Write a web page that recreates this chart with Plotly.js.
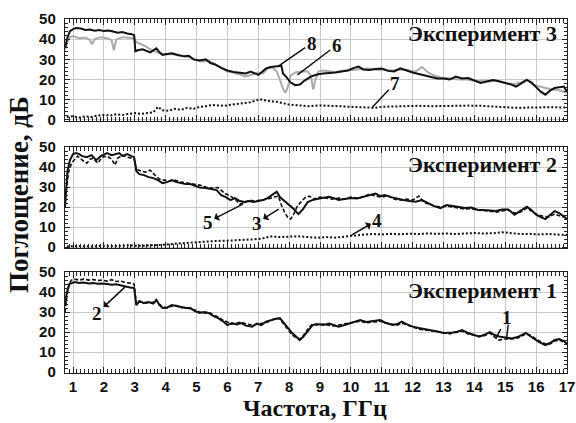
<!DOCTYPE html>
<html><head><meta charset="utf-8">
<script src="https://cdn.plot.ly/plotly-3.0.1.min.js"></script>
<style>html,body{margin:0;padding:0;background:#fff}#chart{width:576px;height:423px}</style>
</head><body><div id="chart"></div>
<script>
// ---- Data: [frequency GHz, absorption dB] ----
// Experiment 3
const exp3_curve8 = [[0.75,36],[0.8,40],[0.9,44],[1.0,45],[1.1,45.5],[1.25,45.3],[1.4,44.6],[1.55,44.8],[1.7,44.2],[1.85,44.5],[2.0,44],[2.15,44.3],[2.3,43.8],[2.45,43.2],[2.6,43.5],[2.75,42.8],[2.9,42.5],[2.98,42],[3.02,34],[3.1,34.5],[3.25,35],[3.4,34],[3.5,33.5],[3.6,34.5],[3.7,35.5],[3.8,33.5],[3.9,32.2],[4.0,32.5],[4.2,33],[4.4,32.2],[4.6,31.5],[4.75,31.8],[4.9,30],[5.1,29.5],[5.3,30],[5.45,28.2],[5.6,27.5],[5.8,25.8],[6.0,24.5],[6.2,23.8],[6.4,23.4],[6.6,23],[6.75,24],[6.9,22.8],[7.0,22.3],[7.1,23.5],[7.25,25.5],[7.4,26.2],[7.6,26.4],[7.75,26.8],[7.8,23],[7.9,21.5],[8.05,18.5],[8.2,17.2],[8.35,17.5],[8.5,19.5],[8.7,21.5],[8.9,22.5],[9.1,23],[9.3,23.2],[9.5,23.5],[9.7,24],[9.9,24.5],[10.1,25.8],[10.25,26.4],[10.4,25],[10.6,24.8],[10.8,25.2],[11.0,25.5],[11.2,24.3],[11.4,24],[11.6,25.6],[11.8,24.5],[12.0,23.5],[12.2,22.8],[12.4,22],[12.6,21.5],[12.8,20.5],[13.0,20.5],[13.2,20],[13.4,21.5],[13.6,20.5],[13.8,20.8],[14.0,19.5],[14.2,18.3],[14.4,19],[14.6,19.8],[14.8,19.2],[15.0,18.5],[15.2,17.5],[15.35,16.5],[15.5,18],[15.7,19.8],[15.85,18.5],[16.0,16],[16.15,14],[16.3,12.5],[16.45,14.5],[16.6,15.8],[16.75,16.2],[16.9,16.5],[17.0,14]];
const exp3_curve6 = [[0.75,35],[0.8,38],[0.9,41],[1.0,41.5],[1.2,40.5],[1.4,40.8],[1.55,39.5],[1.62,37.5],[1.7,40],[1.9,41],[2.1,40.5],[2.25,39.5],[2.32,34.5],[2.4,39.8],[2.6,41],[2.8,40.8],[2.98,40.5],[3.05,38.5],[3.2,37.5],[3.35,36.5],[3.5,35],[3.65,34],[3.8,33],[4.0,32.5],[4.2,32.5],[4.4,32],[4.6,31.5],[4.8,31],[5.0,29.5],[5.2,29],[5.4,29.3],[5.6,27.5],[5.8,25.5],[6.0,24],[6.2,23.5],[6.4,22.5],[6.6,21.5],[6.8,22.5],[7.0,23.5],[7.15,23],[7.3,25.5],[7.45,26],[7.6,24],[7.7,20],[7.8,15.5],[7.88,13.5],[7.95,16],[8.05,22],[8.2,23.5],[8.4,24],[8.6,24],[8.7,22],[8.78,15],[8.85,20],[8.95,24],[9.1,24.5],[9.3,24],[9.5,23.8],[9.7,24.2],[9.9,24.5],[10.1,24.8],[10.3,25.2],[10.5,25.5],[10.7,25.2],[10.9,24.8],[11.1,25],[11.3,24.5],[11.5,24.8],[11.7,25],[11.9,24.5],[12.1,24],[12.3,26.2],[12.5,23.5],[12.7,22],[12.9,21],[13.1,20.8],[13.3,20.3],[13.5,20],[13.7,20.2],[13.9,19.8],[14.1,19.2],[14.3,19.5],[14.5,19],[14.7,19.5],[14.9,18.5],[15.1,18],[15.3,17.8],[15.5,18.5],[15.7,20],[15.9,17.5],[16.1,16.5],[16.3,15.8],[16.5,15.2],[16.7,14.8],[16.9,14],[17.0,13.5]];
const exp3_curve7 = [[0.8,1.5],[1.0,1.8],[1.2,1.2],[1.4,1.8],[1.6,1.5],[1.8,2.2],[2.0,2.5],[2.2,2.2],[2.4,2.8],[2.6,2.5],[2.8,3.0],[3.0,3.4],[3.2,3.0],[3.4,3.5],[3.6,3.8],[3.75,6.5],[3.9,4.8],[4.1,4.5],[4.3,5.5],[4.5,5.0],[4.7,6.0],[4.9,5.5],[5.1,6.5],[5.3,6.8],[5.5,7.4],[5.7,7.2],[5.9,7.0],[6.1,7.5],[6.3,7.8],[6.5,8.2],[6.7,8.6],[6.9,9.5],[7.05,10.3],[7.2,9.8],[7.4,9.2],[7.6,9.0],[7.8,8.2],[8.0,7.6],[8.2,7.4],[8.4,7.0],[8.6,6.8],[8.8,7.0],[9.0,7.2],[9.3,7.0],[9.6,6.8],[9.9,6.9],[10.2,6.7],[10.5,6.4],[10.75,6.0],[11.0,6.5],[11.4,6.7],[11.8,6.9],[12.2,7.0],[12.6,6.8],[13.0,7.0],[13.4,6.9],[13.8,7.1],[14.2,7.0],[14.6,6.8],[15.0,6.3],[15.3,6.0],[15.6,6.1],[16.0,6.4],[16.4,6.3],[16.8,6.2],[17.0,6.2]];
// Experiment 2
const exp2_curve5 = [[0.74,20],[0.78,30],[0.82,38],[0.9,43.5],[1.0,46.5],[1.1,47],[1.2,46.5],[1.3,45.5],[1.45,45],[1.6,46],[1.75,43.5],[1.9,45.5],[2.1,47],[2.25,46],[2.4,46.5],[2.5,47],[2.6,45.5],[2.75,46.5],[2.9,45.5],[2.98,45],[3.05,38],[3.15,36.5],[3.3,36],[3.45,35],[3.6,34.5],[3.75,33.5],[3.9,32],[4.05,32.5],[4.2,33.5],[4.35,32.5],[4.5,32],[4.65,31.5],[4.8,31.5],[4.95,30.5],[5.1,29.8],[5.3,29.5],[5.5,29],[5.65,28.5],[5.8,26],[5.95,25],[6.1,23.5],[6.25,24.5],[6.4,23],[6.55,22.5],[6.7,23],[6.85,22.5],[7.0,23],[7.15,23.5],[7.3,24.5],[7.45,26],[7.6,27.7],[7.7,25],[7.85,23],[8.0,21],[8.15,19],[8.3,16.5],[8.45,19],[8.6,22.5],[8.75,23.5],[8.9,24],[9.1,24.5],[9.3,25.2],[9.45,24.5],[9.6,23.5],[9.8,24],[10.0,24.5],[10.2,24.3],[10.4,25.2],[10.6,25.8],[10.8,26.8],[10.95,25.5],[11.1,26],[11.3,25],[11.5,24.2],[11.7,23.5],[11.9,23],[12.1,22.7],[12.3,23.5],[12.5,22],[12.7,20.5],[12.9,19.5],[13.1,21],[13.3,20.5],[13.5,20],[13.7,19.5],[13.9,19.8],[14.1,18.7],[14.3,18.5],[14.5,18.2],[14.7,18],[14.9,18.8],[15.1,18.8],[15.3,16.2],[15.5,18],[15.7,20.2],[15.85,18.5],[16.0,16.2],[16.15,15],[16.3,14],[16.45,16],[16.6,18],[16.75,17],[16.9,15],[17.0,14]];
const exp2_curve3 = [[0.78,28],[0.85,37],[0.95,42],[1.05,44],[1.15,45.5],[1.3,43.5],[1.45,42],[1.55,44],[1.65,44.5],[1.8,42],[1.95,45],[2.1,45.5],[2.25,44],[2.36,41],[2.45,44.5],[2.6,46],[2.75,45],[2.9,44.5],[2.98,44],[3.05,39],[3.2,38],[3.35,37.5],[3.5,38.5],[3.65,36],[3.8,34],[3.95,33.5],[4.1,33],[4.3,33.5],[4.5,32.5],[4.7,32],[4.9,31.5],[5.1,31],[5.3,30],[5.5,29.5],[5.7,29.8],[5.9,27],[6.1,25.5],[6.25,24],[6.4,21.5],[6.55,22],[6.7,23.5],[6.9,23],[7.1,23.5],[7.3,24],[7.5,25],[7.65,25.5],[7.75,21],[7.85,17.5],[7.95,15],[8.05,14],[8.15,16.5],[8.25,20],[8.35,22],[8.5,24.5],[8.65,25.5],[8.8,24],[9.0,25],[9.2,24.5],[9.4,24],[9.6,24.5],[9.8,24],[10.0,25],[10.2,24.5],[10.4,25],[10.6,26.5],[10.8,25.5],[11.0,25],[11.2,25.8],[11.4,24],[11.6,23.5],[11.8,24],[12.0,23.5],[12.2,25.5],[12.35,22.5],[12.5,21.5],[12.7,20.5],[12.9,20],[13.1,20.5],[13.3,20],[13.5,19.5],[13.7,19],[13.9,19.3],[14.1,18.5],[14.3,18.3],[14.5,18],[14.7,17.5],[14.9,18],[15.1,18.5],[15.3,17],[15.5,17.5],[15.7,19.5],[15.85,18],[16.0,16.5],[16.2,15.5],[16.4,15],[16.6,16.5],[16.8,15.5],[17.0,14.5]];
const exp2_curve4 = [[0.8,0.3],[1.2,0.5],[1.6,0.3],[2.0,0.6],[2.4,0.5],[2.8,0.8],[3.2,0.6],[3.6,0.8],[4.0,1.2],[4.4,1.8],[4.8,2.2],[5.2,2.8],[5.6,3.0],[6.0,3.2],[6.4,3.4],[6.8,3.8],[7.1,4.2],[7.4,5.3],[7.7,5.0],[8.0,5.2],[8.3,5.4],[8.6,5.0],[8.9,4.6],[9.2,5.0],[9.5,4.7],[9.8,5.2],[10.1,5.8],[10.4,6.2],[10.7,6.5],[11.0,6.3],[11.3,6.6],[11.6,6.4],[11.9,6.7],[12.2,6.5],[12.5,6.8],[12.8,6.6],[13.1,6.8],[13.4,6.5],[13.7,6.8],[14.0,7.0],[14.3,6.8],[14.6,6.9],[14.9,7.4],[15.2,6.8],[15.5,6.5],[15.8,6.6],[16.1,6.3],[16.4,6.5],[16.7,6.2],[17.0,6.0]];
// Experiment 1
const exp1_curve1 = [[0.74,33],[0.8,40],[0.88,44],[0.95,44.5],[1.05,45],[1.2,44.5],[1.35,44.8],[1.5,44.3],[1.65,44.6],[1.8,44.2],[1.95,44.3],[2.1,44],[2.25,43.7],[2.4,43.9],[2.55,43.2],[2.7,42.8],[2.85,42.3],[2.98,42],[3.05,33.5],[3.15,35.5],[3.3,34.5],[3.45,35],[3.6,34.2],[3.7,36],[3.8,33.5],[3.9,32],[4.05,32.3],[4.2,33.5],[4.35,33],[4.5,32.5],[4.65,32],[4.8,32],[4.95,30.5],[5.1,29.5],[5.25,30],[5.4,29.5],[5.55,28],[5.7,27],[5.85,25.5],[6.0,23.5],[6.15,24.5],[6.3,23.8],[6.45,24.5],[6.6,23.2],[6.8,22.7],[6.95,24.2],[7.1,23.5],[7.25,25.2],[7.4,26],[7.55,26.5],[7.7,27],[7.8,25],[7.9,23.5],[8.0,21],[8.1,19.5],[8.24,17.5],[8.34,16],[8.45,17.5],[8.55,19.5],[8.65,21.5],[8.76,23.5],[8.9,24],[9.1,23.5],[9.3,24.2],[9.45,23.5],[9.6,22.7],[9.8,23.5],[10.0,24.5],[10.15,25.5],[10.3,26],[10.5,25],[10.65,25.3],[10.8,25.5],[10.95,26],[11.1,24.8],[11.35,23.5],[11.5,24],[11.65,25.2],[11.8,24],[12.0,22.7],[12.2,22],[12.4,21.5],[12.6,21],[12.8,20.3],[13.0,19.5],[13.15,19.5],[13.3,19.8],[13.45,20.2],[13.6,21],[13.8,19.5],[14.0,18.5],[14.16,17.7],[14.3,18.5],[14.5,20],[14.65,18.5],[14.8,17.8],[15.0,17.3],[15.2,16.8],[15.4,17.5],[15.55,18.5],[15.67,19.6],[15.8,18],[15.95,16.5],[16.1,15],[16.3,13.5],[16.45,14.5],[16.6,16],[16.75,16.5],[16.9,15.5],[17.0,14]];
const exp1_curve2 = [[0.74,30],[0.8,38],[0.88,44.5],[0.95,46],[1.05,46.5],[1.2,46],[1.35,46.5],[1.5,46],[1.65,46.3],[1.8,45.8],[1.95,46],[2.1,45.5],[2.25,46.2],[2.4,45.3],[2.55,45.5],[2.7,44.8],[2.85,44.5],[2.98,44],[3.05,34],[3.15,35],[3.3,34.8],[3.45,34.5],[3.6,35],[3.7,36.2],[3.8,34],[3.9,32.5],[4.05,32],[4.2,33],[4.35,33.3],[4.5,32.2],[4.65,32.5],[4.8,31.5],[4.95,31],[5.1,30],[5.25,29.5],[5.4,30],[5.55,28.5],[5.7,27.5],[5.85,26],[6.0,25],[6.15,24],[6.3,24.5],[6.45,25],[6.6,24],[6.8,23.5],[6.95,23.8],[7.1,24.2],[7.25,24.8],[7.4,25.5],[7.55,27],[7.7,26.5],[7.8,24.5],[7.9,22.5],[8.0,20.5],[8.1,18.5],[8.24,17],[8.34,16.5],[8.45,18],[8.55,20],[8.65,22.5],[8.76,24],[8.9,23.5],[9.1,24],[9.3,23.5],[9.45,23],[9.6,23.5],[9.8,24],[10.0,24.8],[10.15,25],[10.3,25.5],[10.5,24.5],[10.65,25],[10.8,25],[10.95,25.5],[11.1,24.5],[11.35,24],[11.5,23.5],[11.65,24.5],[11.8,23.5],[12.0,22.5],[12.2,21.5],[12.4,21],[12.6,20.8],[12.8,20],[13.0,19.8],[13.15,19],[13.3,19.5],[13.45,20],[13.6,20.5],[13.8,19],[14.0,18.3],[14.16,18],[14.3,18],[14.5,19.5],[14.65,17.5],[14.8,16],[15.0,16.5],[15.2,16.5],[15.4,17],[15.55,18],[15.67,19],[15.8,18.5],[15.95,17],[16.1,15.5],[16.3,14],[16.45,14],[16.6,15.5],[16.75,16],[16.9,15],[17.0,14.5]];

const xTickVals = [1,2,3,4,5,6,7,8,9,10,11,12,13,14,15,16,17];
const yTickVals = [0,10,20,30,40,50];
const panelNames = ['Эксперимент 1','Эксперимент 2','Эксперимент 3'];
const xTitle = 'Частота, ГГц';
const yTitle = 'Поглощение, дБ';

// ---- Helpers ----
const xs = a => a.map(p => p[0]);
const ys = a => a.map(p => p[1]);
function tr(data, xa, ya, color, width, dash){
  return {x: xs(data), y: ys(data), xaxis: xa, yaxis: ya, type: 'scatter', mode: 'lines',
          line: {color: color, width: width, dash: dash}, hoverinfo: 'skip', showlegend: false};
}
const BLACK = '#111111', GRAY = '#ababab';
const DASH = '4px,2px', DOT = '2px,2px';
const traces = [
  tr(exp3_curve6, 'x3', 'y3', GRAY, 2, 'solid'),
  tr(exp3_curve8, 'x3', 'y3', BLACK, 2, 'solid'),
  tr(exp3_curve7, 'x3', 'y3', BLACK, 2, DOT),
  tr(exp2_curve3, 'x2', 'y2', BLACK, 1.6, DASH),
  tr(exp2_curve5, 'x2', 'y2', BLACK, 2, 'solid'),
  tr(exp2_curve4, 'x2', 'y2', BLACK, 2, DOT),
  tr(exp1_curve2, 'x', 'y', BLACK, 1.6, DASH),
  tr(exp1_curve1, 'x', 'y', BLACK, 2, 'solid')
];

const tickFont = {family: 'Liberation Sans, Arial, sans-serif', size: 15, color: '#111', weight: 'bold'};
const serif = 'Liberation Serif, Times New Roman, serif';
function xAxis(anchor, showLabels){
  return {anchor: anchor, range: [0.74, 17.0], tickvals: xTickVals, showticklabels: showLabels,
    ticks: 'inside', ticklen: 6, tickcolor: '#222', mirror: 'allticks', showline: true, linecolor: '#222', linewidth: 1.2,
    showgrid: true, gridcolor: '#c9c9c9', gridwidth: 1, zeroline: false, tickfont: tickFont,
    minor: {dtick: 0.125, tick0: 0, ticks: 'inside', ticklen: 4, tickcolor: '#222', showgrid: false}};
}
function yAxis(domain){
  return {domain: domain, range: [-0.5, 50], tickvals: yTickVals, ticks: 'inside', ticklen: 5, tickcolor: '#222',
    mirror: 'allticks', showline: true, linecolor: '#222', linewidth: 1.2, showgrid: true, gridcolor: '#c9c9c9',
    zeroline: false, tickfont: tickFont, ticklabelstandoff: 5,
    minor: {dtick: 2, tick0: 0, ticks: 'inside', ticklen: 3, tickcolor: '#222', showgrid: false}};
}
const labFont = {family: serif, size: 19, color: '#111', weight: 'bold'};
function lab(text, xa, ya, tipX, tipY, txtX, txtY, side){
  return {text: text, xref: xa, yref: ya, x: tipX, y: tipY, axref: xa, ayref: ya, ax: txtX, ay: txtY,
    showarrow: true, arrowhead: 2, arrowsize: 0.8, arrowwidth: 1.5, arrowcolor: '#111', arrowside: side || 'none',
    standoff: 0, startstandoff: 0, font: labFont};
}
const panelFont = {family: serif, size: 22, color: '#111', weight: 'bold'};
const annotations = [
  {text: panelNames[2], xref: 'paper', yref: 'y3 domain', x: 0.985, y: 0.86, xanchor: 'right', yanchor: 'middle', showarrow: false, font: panelFont},
  {text: panelNames[1], xref: 'paper', yref: 'y2 domain', x: 0.985, y: 0.83, xanchor: 'right', yanchor: 'middle', showarrow: false, font: panelFont},
  {text: panelNames[0], xref: 'paper', yref: 'y domain', x: 0.985, y: 0.82, xanchor: 'right', yanchor: 'middle', showarrow: false, font: panelFont},
  lab('8', 'x3', 'y3', 7.63, 26.4, 8.73, 38.1),
  lab('6', 'x3', 'y3', 8.27, 22.3, 9.54, 37.1),
  lab('7', 'x3', 'y3', 10.7, 6.4, 11.44, 18.3),
  lab('5', 'x2', 'y2', 6.5, 21.5, 5.36, 12.5, 'start'),
  lab('3', 'x2', 'y2', 7.66, 19, 6.95, 12, 'start'),
  lab('4', 'x2', 'y2', 10.02, 6, 10.86, 13.5, 'start'),
  lab('2', 'x', 'y', 2.68, 42.5, 1.78, 29.5, 'start'),
  lab('1', 'x', 'y', 14.7, 17, 15.06, 27.5),
  lab('', 'x', 'y', 15.05, 17.5, 15.1, 24.5),
  {text: xTitle, xref: 'paper', yref: 'paper', x: 0.498, y: -0.1, xanchor: 'center', yanchor: 'middle', showarrow: false,
   font: {family: serif, size: 24, color: '#111', weight: 'bold'}},
  {text: yTitle, xref: 'paper', yref: 'paper', x: -0.092, y: 0.505, xanchor: 'center', yanchor: 'middle', textangle: -90, showarrow: false,
   font: {family: serif, size: 27, color: '#111', weight: 'bold'}}
];

const layout = {
  width: 576, height: 423, margin: {l: 65, r: 9, t: 19, b: 50},
  paper_bgcolor: '#fff', plot_bgcolor: '#fff', showlegend: false,
  xaxis: xAxis('y', true),
  xaxis2: Object.assign(xAxis('y2', false), {matches: 'x'}),
  xaxis3: Object.assign(xAxis('y3', false), {matches: 'x'}),
  yaxis: yAxis([0, 0.285]),
  yaxis2: yAxis([0.353, 0.638]),
  yaxis3: yAxis([0.712, 1]),
  annotations: annotations
};
Plotly.newPlot('chart', traces, layout, {staticPlot: true, displayModeBar: false});
</script></body></html>
